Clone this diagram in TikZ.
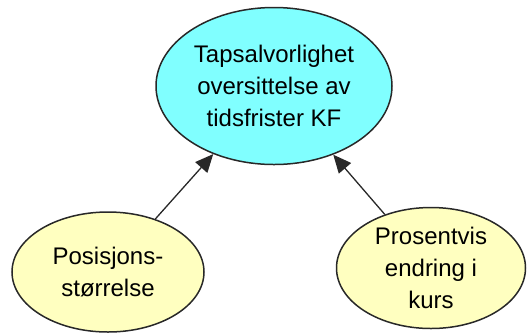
\documentclass[tikz,border=0pt]{standalone}
\usepackage{fontspec}
\setmainfont{Liberation Sans}
\usetikzlibrary{shapes.geometric,arrows.meta}
\definecolor{topfill}{RGB}{128,255,255}
\definecolor{leaffill}{RGB}{255,255,192}
\definecolor{edgecol}{RGB}{40,40,40}
\tikzset{
  concept/.style={ellipse, draw=edgecol, line width=1.5pt, inner sep=0pt,
    align=center, text=black, font=\fontsize{24}{32}\selectfont},
  link/.style={draw=edgecol, line width=1.3pt,
    -{Triangle[length=18pt,width=16pt]}},
}
\begin{document}
\begin{tikzpicture}[x=1pt,y=-1pt]
  \useasboundingbox (0,0) rectangle (527,333);
  \node[concept, fill=topfill, minimum width=236pt, minimum height=157pt]
    (loss) at (274,86) {Tapsalvorlighet\\oversittelse av\\tidsfrister KF};
  \node[concept, fill=leaffill, minimum width=192pt, minimum height=120pt]
    (size) at (108,272) {Posisjons-\\størrelse};
  \node[concept, fill=leaffill, minimum width=189pt, minimum height=121pt]
    (rate) at (431,268) {Prosentvis\\endring i\\kurs};
  \draw[link] (size) -- (loss);
  \draw[link] (rate) -- (loss);
\end{tikzpicture}
\end{document}
